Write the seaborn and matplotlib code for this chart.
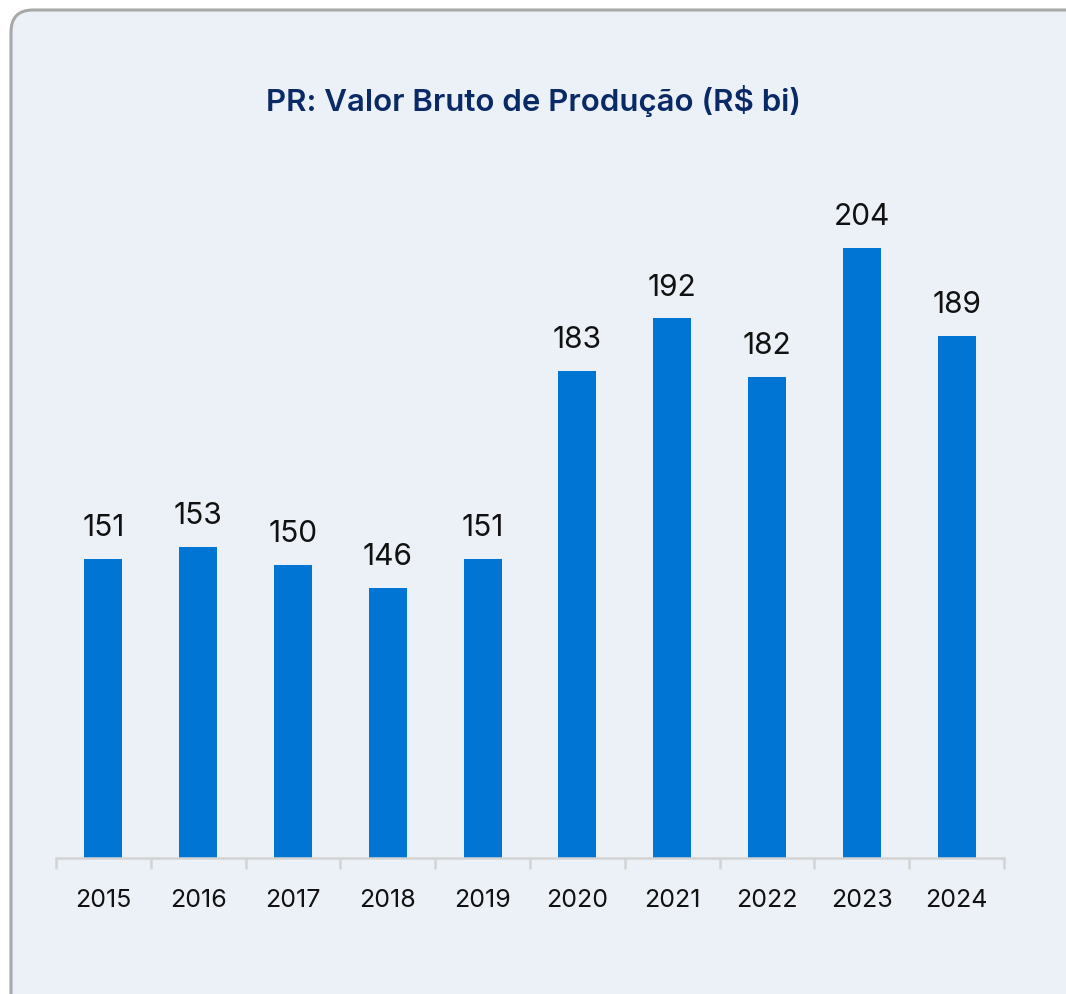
import numpy as np
import pandas as pd
import matplotlib
matplotlib.use("Agg")
import matplotlib.pyplot as plt
import seaborn as sns
from matplotlib.patches import FancyBboxPatch

years = ["2015", "2016", "2017", "2018", "2019", "2020", "2021", "2022", "2023", "2024"]
values = [151, 153, 150, 146, 151, 183, 192, 182, 204, 189]

bg = "#ECF1F8"
bar_color = "#0075D3"
title_color = "#0A2A66"

sns.set_theme(style="white")
plt.rcParams["font.family"] = ["Inter", "DejaVu Sans"]

fig = plt.figure(figsize=(10.66, 9.94), dpi=100)
fig.patch.set_facecolor("white")

# card background with rounded border (pixel coords)
card = FancyBboxPatch((11, -40), 1120, 984 + 40,
                      boxstyle="round,pad=0,rounding_size=22",
                      transform=None, facecolor=bg, edgecolor="#A8A8A8",
                      linewidth=2.2, zorder=-10)
fig.patches.append(card)

ax = fig.add_axes([56 / 1066, 136 / 994, 948 / 1066, 704 / 994])
ax.set_facecolor("none")
ax.set_zorder(1)

df = pd.DataFrame({"year": years, "value": values})
sns.barplot(data=df, x="year", y="value", color=bar_color, width=0.4,
            saturation=1, linewidth=0, ax=ax)

ax.set_ylim(100, 220)
ax.set_xlim(-0.5, len(years) - 0.5)

for i, v in enumerate(values):
    ax.annotate(f"{v}", (i, v), xytext=(0, 12), textcoords="offset points",
                ha="center", va="bottom", fontsize=21.5, color="#111111")

for s in ["top", "right", "left"]:
    ax.spines[s].set_visible(False)
ax.spines["bottom"].set_color("#D3D3D3")
ax.spines["bottom"].set_linewidth(1.8)
ax.set_yticks([])
ax.set_xlabel("")
ax.set_ylabel("")

ax.set_xticks(np.arange(-0.5, len(years)), minor=True)
ax.tick_params(axis="x", which="minor", bottom=True, length=8, width=1.8,
               color="#D3D3D3", direction="out")
ax.tick_params(axis="x", which="major", bottom=True, length=0, pad=22,
               labelsize=18, labelcolor="#111111")

fig.text(533 / 1066, 1 - 101 / 994, "PR: Valor Bruto de Produção (R$ bi)",
         ha="center", va="center", fontsize=22.5, fontweight="semibold",
         color=title_color)

fig.savefig("out.png", dpi=100, facecolor=fig.get_facecolor())
